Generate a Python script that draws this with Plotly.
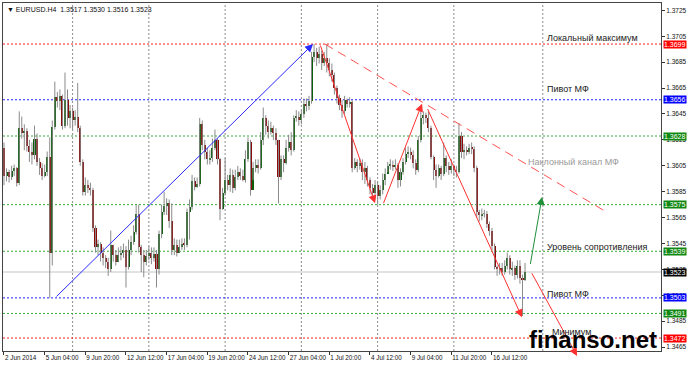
import plotly.graph_objects as go

# ---------------- data (EURUSD H4) ----------------
first_open = 1.3619
closes = [
    1.3597, 1.3600, 1.3596, 1.3601, 1.3603, 1.3592, 1.3634, 1.3630, 1.3632, 1.3620,
    1.3616, 1.3613, 1.3626, 1.3608, 1.3603, 1.3597, 1.3600, 1.3612, 1.3538, 1.3635,
    1.3658, 1.3655, 1.3659, 1.3636, 1.3656, 1.3642, 1.3647, 1.3640, 1.3643, 1.3634,
    1.3608, 1.3585, 1.3590, 1.3588, 1.3586, 1.3557, 1.3542, 1.3545, 1.3538, 1.3534,
    1.3531, 1.3525, 1.3544, 1.3536, 1.3531, 1.3536, 1.3538, 1.3540, 1.3527, 1.3540,
    1.3546, 1.3554, 1.3568, 1.3542, 1.3536, 1.3531, 1.3535, 1.3538, 1.3534, 1.3537,
    1.3525, 1.3552, 1.3569, 1.3574, 1.3576, 1.3562, 1.3540, 1.3544, 1.3538, 1.3542,
    1.3545, 1.3544, 1.3569, 1.3573, 1.3593, 1.3589, 1.3591, 1.3637, 1.3621, 1.3616,
    1.3610, 1.3611, 1.3619, 1.3625, 1.3610, 1.3572, 1.3584, 1.3594, 1.3590, 1.3598,
    1.3588, 1.3596, 1.3600, 1.3597, 1.3594, 1.3610, 1.3623, 1.3586, 1.3603, 1.3606,
    1.3603, 1.3625, 1.3642, 1.3636, 1.3631, 1.3634, 1.3630, 1.3625, 1.3596, 1.3610,
    1.3607, 1.3619, 1.3623, 1.3617, 1.3642, 1.3643, 1.3640, 1.3645, 1.3653, 1.3651,
    1.3655, 1.3689, 1.3693, 1.3688, 1.3691, 1.3684, 1.3688, 1.3684, 1.3679, 1.3675,
    1.3665, 1.3657, 1.3652, 1.3647, 1.3656, 1.3653, 1.3654, 1.3603, 1.3608, 1.3605,
    1.3607, 1.3600, 1.3603, 1.3594, 1.3588, 1.3584, 1.3590, 1.3582, 1.3586, 1.3594,
    1.3599, 1.3605, 1.3606, 1.3604, 1.3606, 1.3594, 1.3600, 1.3608, 1.3614, 1.3616,
    1.3613, 1.3607, 1.3602, 1.3625, 1.3642, 1.3644, 1.3642, 1.3634, 1.3612, 1.3602,
    1.3597, 1.3603, 1.3599, 1.3611, 1.3605, 1.3602, 1.3605, 1.3602, 1.3600, 1.3628,
    1.3616, 1.3617, 1.3616, 1.3619, 1.3618, 1.3603, 1.3569, 1.3567, 1.3568, 1.3568,
    1.3560, 1.3555, 1.3543, 1.3527, 1.3525, 1.3526, 1.3523, 1.3528, 1.3534, 1.3525,
    1.3526, 1.3521, 1.3528, 1.3518, 1.3517, 1.3523,
]
highs = [
    1.3623, 1.3603, 1.3602, 1.3605, 1.3606, 1.3604, 1.3647, 1.3643, 1.3637, 1.3634,
    1.3625, 1.3623, 1.3636, 1.3630, 1.3611, 1.3607, 1.3606, 1.3616, 1.3627, 1.3640,
    1.3670, 1.3662, 1.3664, 1.3660, 1.3677, 1.3664, 1.3652, 1.3650, 1.3648, 1.3669,
    1.3636, 1.3610, 1.3596, 1.3594, 1.3592, 1.3588, 1.3559, 1.3548, 1.3546, 1.3542,
    1.3536, 1.3534, 1.3555, 1.3544, 1.3540, 1.3542, 1.3543, 1.3545, 1.3543, 1.3548,
    1.3551, 1.3559, 1.3575, 1.3575, 1.3544, 1.3540, 1.3540, 1.3543, 1.3542, 1.3542,
    1.3540, 1.3555, 1.3575, 1.3585, 1.3580, 1.3579, 1.3576, 1.3549, 1.3548, 1.3548,
    1.3549, 1.3549, 1.3572, 1.3579, 1.3598, 1.3596, 1.3596, 1.3642, 1.3640, 1.3625,
    1.3619, 1.3617, 1.3626, 1.3633, 1.3626, 1.3611, 1.3588, 1.3611, 1.3598, 1.3603,
    1.3602, 1.3602, 1.3605, 1.3603, 1.3602, 1.3617, 1.3627, 1.3625, 1.3608, 1.3610,
    1.3610, 1.3631, 1.3650, 1.3644, 1.3640, 1.3639, 1.3636, 1.3634, 1.3625, 1.3613,
    1.3613, 1.3625, 1.3629, 1.3631, 1.3644, 1.3648, 1.3647, 1.3648, 1.3657, 1.3657,
    1.3659, 1.3693, 1.3699, 1.3696, 1.3697, 1.3694, 1.3693, 1.3699, 1.3688, 1.3684,
    1.3677, 1.3667, 1.3660, 1.3656, 1.3659, 1.3657, 1.3658, 1.3656, 1.3611, 1.3610,
    1.3611, 1.3610, 1.3608, 1.3605, 1.3596, 1.3591, 1.3594, 1.3593, 1.3590, 1.3599,
    1.3603, 1.3608, 1.3610, 1.3609, 1.3610, 1.3607, 1.3603, 1.3611, 1.3619, 1.3620,
    1.3619, 1.3617, 1.3610, 1.3628, 1.3648, 1.3647, 1.3646, 1.3647, 1.3636, 1.3613,
    1.3606, 1.3606, 1.3605, 1.3623, 1.3613, 1.3608, 1.3610, 1.3606, 1.3605, 1.3638,
    1.3631, 1.3622, 1.3620, 1.3622, 1.3623, 1.3620, 1.3605, 1.3571, 1.3572, 1.3571,
    1.3570, 1.3562, 1.3557, 1.3545, 1.3528, 1.3530, 1.3530, 1.3532, 1.3538, 1.3536,
    1.3531, 1.3528, 1.3532, 1.3532, 1.3521, 1.3530,
]
lows = [
    1.3590, 1.3593, 1.3592, 1.3594, 1.3597, 1.3589, 1.3590, 1.3626, 1.3617, 1.3616,
    1.3608, 1.3606, 1.3610, 1.3605, 1.3598, 1.3594, 1.3596, 1.3597, 1.3503, 1.3528,
    1.3633, 1.3650, 1.3648, 1.3633, 1.3634, 1.3636, 1.3634, 1.3633, 1.3636, 1.3631,
    1.3605, 1.3582, 1.3582, 1.3584, 1.3582, 1.3554, 1.3538, 1.3536, 1.3531, 1.3528,
    1.3526, 1.3520, 1.3523, 1.3531, 1.3528, 1.3531, 1.3532, 1.3534, 1.3511, 1.3525,
    1.3536, 1.3544, 1.3552, 1.3538, 1.3523, 1.3519, 1.3528, 1.3532, 1.3529, 1.3531,
    1.3511, 1.3521, 1.3549, 1.3567, 1.3567, 1.3557, 1.3536, 1.3536, 1.3535, 1.3538,
    1.3540, 1.3540, 1.3542, 1.3548, 1.3571, 1.3586, 1.3588, 1.3589, 1.3617, 1.3610,
    1.3606, 1.3606, 1.3608, 1.3617, 1.3606, 1.3563, 1.3571, 1.3582, 1.3586, 1.3585,
    1.3584, 1.3586, 1.3594, 1.3594, 1.3593, 1.3592, 1.3608, 1.3582, 1.3594, 1.3600,
    1.3599, 1.3602, 1.3621, 1.3629, 1.3626, 1.3629, 1.3625, 1.3621, 1.3576, 1.3594,
    1.3600, 1.3606, 1.3616, 1.3613, 1.3616, 1.3639, 1.3636, 1.3637, 1.3642, 1.3647,
    1.3648, 1.3653, 1.3685, 1.3682, 1.3684, 1.3679, 1.3682, 1.3677, 1.3674, 1.3670,
    1.3660, 1.3653, 1.3648, 1.3642, 1.3645, 1.3650, 1.3650, 1.3600, 1.3602, 1.3600,
    1.3602, 1.3594, 1.3591, 1.3589, 1.3583, 1.3580, 1.3579, 1.3575, 1.3579, 1.3583,
    1.3590, 1.3600, 1.3602, 1.3601, 1.3602, 1.3588, 1.3589, 1.3598, 1.3606, 1.3611,
    1.3610, 1.3603, 1.3598, 1.3600, 1.3623, 1.3637, 1.3638, 1.3631, 1.3610, 1.3594,
    1.3588, 1.3596, 1.3594, 1.3597, 1.3600, 1.3598, 1.3599, 1.3597, 1.3596, 1.3599,
    1.3611, 1.3610, 1.3613, 1.3614, 1.3614, 1.3600, 1.3565, 1.3562, 1.3563, 1.3565,
    1.3557, 1.3551, 1.3540, 1.3525, 1.3520, 1.3521, 1.3520, 1.3521, 1.3525, 1.3521,
    1.3520, 1.3517, 1.3518, 1.3514, 1.3489, 1.3516,
]
bar_index = list(range(len(closes)))
opens = [first_open] + closes[:-1]

# time axis labels (bar index -> label)
tick_bars = [0, 16, 32, 48, 64, 80, 96, 112, 128, 144, 160, 176, 192]
tick_labels = ["2 Jun 2014", "5 Jun 04:00", "9 Jun 20:00", "12 Jun 12:00", "17 Jun 04:00",
               "19 Jun 20:00", "24 Jun 12:00", "27 Jun 04:00", "1 Jul 20:00", "4 Jul 12:00",
               "9 Jul 04:00", "11 Jul 20:00", "16 Jul 12:00"]
week_start_bars = [27, 57, 87, 117, 147, 177, 212]

# price axis
price_ticks = [1.3725, 1.3705, 1.3685, 1.3665, 1.3645, 1.3625, 1.3605, 1.3585,
               1.3565, 1.3545, 1.3525, 1.3505, 1.3485, 1.3465]

# horizontal levels
level_prices = [1.3699, 1.3656, 1.3628, 1.3575, 1.3539, 1.3503, 1.3491, 1.3472]
level_colors = ["#ff2020", "#2020ff", "#3aa83a", "#3aa83a", "#3aa83a", "#2020ff", "#3aa83a", "#ff2020"]
box_colors = ["#ff0000", "#0000ff", "#118811", "#118811", "#118811", "#0000ff", "#118811", "#ff0000"]
current_price = 1.3523

# analyst drawings: (bar_from, price_from, bar_to, price_to)
blue_trend = (20.1, 1.3503, 121.6, 1.3699)
red_arrows = [(124.3, 1.3699, 146.0, 1.3576),
              (149.1, 1.3575, 164.5, 1.3653),
              (166.4, 1.3650, 203.8, 1.3488)]
red_forecast = (207.7, 1.3522, 225.8, 1.3457)
green_forecast = (207.0, 1.3528, 211.7, 1.3581)
channel_line = (126.3, 1.3699, 237.3, 1.3569)

# text labels: (bar, price, text, colour)
text_labels = [
    (212.9, 1.3704, "Локальный максимум", "#1a1a1a"),
    (212.9, 1.3664, "Пивот МФ", "#1a1a1a"),
    (205.4, 1.3608, "Наклонный канал МФ", "#9a9a9a"),
    (212.9, 1.3542, "Уровень сопротивления", "#1a1a1a"),
    (212.9, 1.3506, "Пивот МФ", "#1a1a1a"),
    (214.8, 1.3477, "Минимум", "#1a1a1a"),
]

# ---------------- figure ----------------
x_range = [-0.39, 258.5]
y_range = [1.34620, 1.37307]
FONT = "Liberation Sans, Arial, sans-serif"

fig = go.Figure()

# wicks
wx, wy = [], []
for i, h, l in zip(bar_index, highs, lows):
    wx += [i, i, None]
    wy += [l, h, None]
fig.add_trace(go.Scatter(x=wx, y=wy, mode="lines", line=dict(color="#8a8a8a", width=1),
                         hoverinfo="skip", showlegend=False))

# bodies
body_base = [min(o, c) for o, c in zip(opens, closes)]
body_len = [max(abs(c - o), 0.00004) for o, c in zip(opens, closes)]
body_col = ["#0b5e0b" if c > o else ("#8b0a0a" if c < o else "#8a8a8a") for o, c in zip(opens, closes)]
fig.add_trace(go.Bar(x=bar_index, y=body_len, base=body_base, width=0.8,
                     marker=dict(color=body_col, line=dict(width=0)),
                     hoverinfo="skip", showlegend=False))

shapes = []
for b in week_start_bars:
    shapes.append(dict(type="line", xref="x", yref="paper", x0=b, x1=b, y0=0, y1=1,
                       line=dict(color="#8c8c8c", width=1, dash="2px,2px"), layer="below"))
for p, c in zip(level_prices, level_colors):
    shapes.append(dict(type="line", xref="paper", yref="y", x0=0, x1=1, y0=p, y1=p,
                       line=dict(color=c, width=1, dash="2px,2px"), layer="below"))
shapes.append(dict(type="line", xref="paper", yref="y", x0=0, x1=1, y0=current_price, y1=current_price,
                   line=dict(color="#c4c4c4", width=1), layer="below"))
shapes.append(dict(type="line", xref="x", yref="y", x0=channel_line[0], y0=channel_line[1],
                   x1=channel_line[2], y1=channel_line[3],
                   line=dict(color="#ff5050", width=1, dash="9px,6px")))

annotations = []


def arrow(seg, color, side="end"):
    x0, y0, x1, y1 = seg
    if side == "end":
        return dict(x=x1, y=y1, ax=x0, ay=y0, xref="x", yref="y", axref="x", ayref="y",
                    text="", showarrow=True, arrowhead=2, arrowsize=1.6, arrowwidth=1,
                    arrowcolor=color, standoff=0)
    return dict(x=x0, y=y0, ax=x1, ay=y1, xref="x", yref="y", axref="x", ayref="y",
                text="", showarrow=True, arrowhead=2, arrowsize=1.6, arrowwidth=1,
                arrowcolor=color, arrowside="start", startarrowhead=2, startarrowsize=1.6,
                standoff=0, startstandoff=0)


annotations.append(arrow(blue_trend, "#2a2aff"))
for seg in red_arrows:
    annotations.append(arrow(seg, "#ff3030"))
annotations.append(arrow(red_forecast, "#ff3030", side="start"))
annotations.append(arrow(green_forecast, "#1f8f3a"))

for b, p, t, c in text_labels:
    annotations.append(dict(x=b, y=p, xref="x", yref="y", text=t, showarrow=False,
                            xanchor="left", yanchor="middle",
                            font=dict(family=FONT, size=9, color=c)))

for p, c in zip(level_prices, box_colors):
    annotations.append(dict(x=1, y=p, xref="paper", yref="y", text=f"{p:.4f}", showarrow=False,
                            xanchor="left", yanchor="middle", xshift=2, bgcolor=c, borderpad=0,
                            font=dict(family=FONT, size=7, color="white")))
annotations.append(dict(x=1, y=current_price, xref="paper", yref="y", text=f"{current_price:.4f}",
                        showarrow=False, xanchor="left", yanchor="middle", xshift=2,
                        bgcolor="#000000", borderpad=0,
                        font=dict(family=FONT, size=7, color="white")))

annotations.append(dict(x=0, y=1, xref="paper", yref="paper", xanchor="left", yanchor="top",
                        xshift=2, yshift=-1, showarrow=False,
                        text="▼ EURUSD.H4  1.3517 1.3530 1.3516 1.3523",
                        font=dict(family=FONT, size=7, color="#111111")))

annotations.append(dict(x=0.797, y=0.034, xref="paper", yref="paper", xanchor="left", yanchor="middle",
                        showarrow=False, text="<b>finanso.net</b>",
                        font=dict(family=FONT, size=24, color="#000000")))

fig.update_layout(
    width=688, height=367,
    margin=dict(l=3, r=27, t=3, b=16),
    paper_bgcolor="white", plot_bgcolor="white",
    shapes=shapes, annotations=annotations,
    showlegend=False, bargap=0,
    xaxis=dict(range=x_range, showgrid=False, zeroline=False, automargin=False,
               tickmode="array", tickvals=tick_bars, ticktext=tick_labels, tickangle=0,
               ticks="outside", ticklen=3, tickcolor="#333333",
               ticklabelposition="outside right",
               tickfont=dict(family=FONT, size=6.3, color="#111111"),
               showline=True, linecolor="#444444", linewidth=1, mirror=True, fixedrange=True),
    yaxis=dict(range=y_range, side="right", showgrid=False, zeroline=False, automargin=False,
               tickmode="array", tickvals=price_ticks, ticktext=[f"{v:.4f}" for v in price_ticks],
               ticks="outside", ticklen=3, tickcolor="#333333",
               tickfont=dict(family=FONT, size=6.5, color="#111111"),
               showline=True, linecolor="#444444", linewidth=1, mirror=True, fixedrange=True),
)

fig.write_html("out.html")
